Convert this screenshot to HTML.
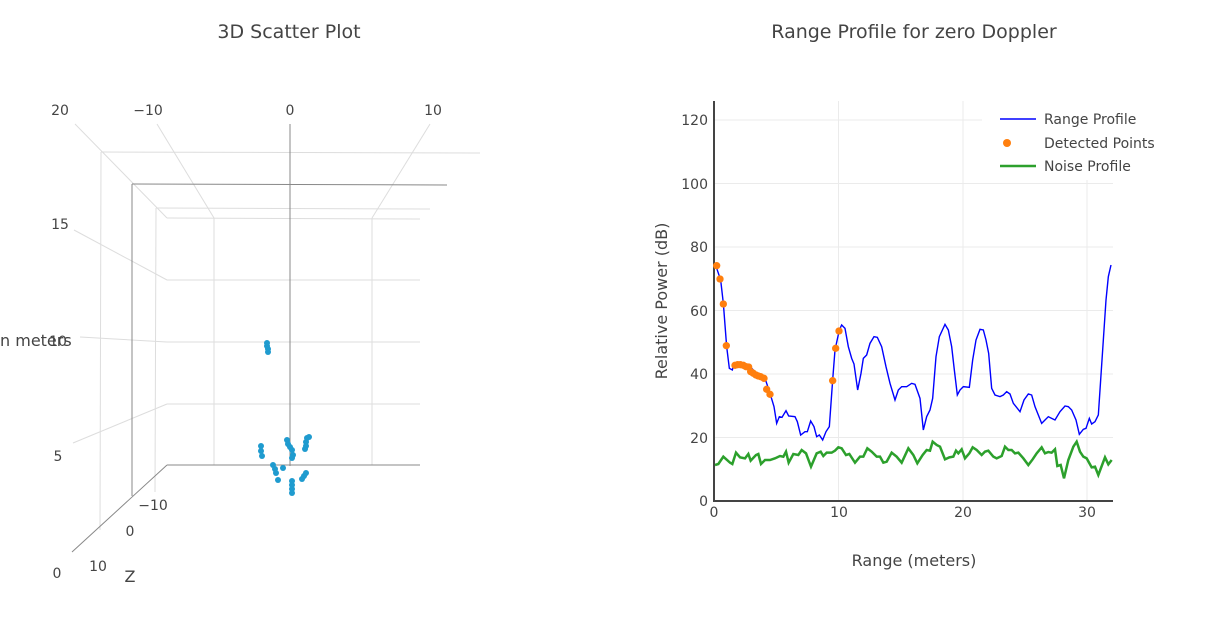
<!DOCTYPE html>
<html><head><meta charset="utf-8"><style>
body{margin:0;background:#fff;width:1210px;height:614px;overflow:hidden}
svg text{font-family:"DejaVu Sans","Liberation Sans",sans-serif;fill:#444}
</style></head><body>
<svg width="1210" height="614" viewBox="0 0 1210 614" xmlns="http://www.w3.org/2000/svg">
<text x="289" y="38" font-size="19" text-anchor="middle">3D Scatter Plot</text>
<text x="914" y="38" font-size="19" text-anchor="middle">Range Profile for zero Doppler</text>

<!-- 3D plot -->
<g stroke="#ddd" stroke-width="1" fill="none">
<line x1="101" y1="152" x2="480" y2="153"/>
<line x1="101" y1="152" x2="100" y2="530"/>
<line x1="156" y1="208" x2="430" y2="209"/>
<line x1="156" y1="208" x2="155" y2="492"/>
<line x1="167" y1="218" x2="420" y2="219"/>
<line x1="167" y1="280" x2="420" y2="280"/>
<line x1="167" y1="342" x2="420" y2="342"/>
<line x1="167" y1="404" x2="420" y2="404"/>
<line x1="214" y1="218" x2="214" y2="465"/>
<line x1="372" y1="218" x2="372" y2="465"/>
<line x1="75" y1="124" x2="167" y2="218"/>
<line x1="74" y1="230" x2="167" y2="280"/>
<line x1="80" y1="337" x2="167" y2="342"/>
<line x1="73" y1="443" x2="167" y2="404"/>
<line x1="157" y1="124" x2="214" y2="218"/>
<line x1="430" y1="124" x2="372" y2="218"/>
</g>
<g stroke="#888" stroke-width="1" fill="none">
<line x1="132" y1="184" x2="447" y2="185"/>
<line x1="132" y1="184" x2="132" y2="496"/>
<line x1="290" y1="124" x2="290" y2="466"/>
<line x1="167" y1="465" x2="420" y2="465"/>
<line x1="167" y1="465" x2="72" y2="552"/>
</g>
<g font-size="14" text-anchor="middle">
<text x="60" y="115">20</text><text x="148" y="115">−10</text><text x="290" y="115">0</text><text x="433" y="115">10</text>
<text x="60" y="229">15</text><text x="58" y="346">10</text><text x="58" y="461">5</text>
<text x="153" y="510">−10</text><text x="130" y="536">0</text><text x="98" y="571">10</text><text x="57" y="578">0</text>
</g>
<text x="0" y="346" font-size="16">n meters</text>
<text x="130" y="582" font-size="16" text-anchor="middle">Z</text>
<g fill="#1f9bcf">
<circle cx="267" cy="346" r="3"/><circle cx="268" cy="349" r="3"/><circle cx="268" cy="352" r="3"/><circle cx="267" cy="343" r="3"/>
<circle cx="261" cy="446" r="3"/><circle cx="261" cy="451" r="3"/><circle cx="262" cy="456" r="3"/>
<circle cx="287" cy="440" r="3"/><circle cx="288" cy="444" r="3"/><circle cx="290" cy="447" r="3"/><circle cx="292" cy="450" r="3"/><circle cx="293" cy="455" r="3"/><circle cx="292" cy="458" r="3"/>
<circle cx="307" cy="438" r="3"/><circle cx="306" cy="442" r="3"/><circle cx="306" cy="446" r="3"/><circle cx="305" cy="449" r="3"/><circle cx="309" cy="437" r="3"/>
<circle cx="273" cy="465" r="3"/><circle cx="275" cy="469" r="3"/><circle cx="276" cy="473" r="3"/><circle cx="283" cy="468" r="3"/><circle cx="278" cy="480" r="3"/>
<circle cx="292" cy="481" r="3"/><circle cx="292" cy="485" r="3"/><circle cx="292" cy="489" r="3"/><circle cx="292" cy="493" r="3"/>
<circle cx="304" cy="476" r="3"/><circle cx="306" cy="473" r="3"/><circle cx="302" cy="479" r="3"/>
</g>

<!-- 2D chart -->
<g stroke="#ebebeb" stroke-width="1">
<line x1="714" y1="437.5" x2="1113" y2="437.5"/>
<line x1="714" y1="374" x2="1113" y2="374"/>
<line x1="714" y1="310.5" x2="1113" y2="310.5"/>
<line x1="714" y1="247" x2="1113" y2="247"/>
<line x1="714" y1="183.5" x2="1113" y2="183.5"/>
<line x1="714" y1="120" x2="1113" y2="120"/>
<line x1="838.5" y1="101" x2="838.5" y2="501"/>
<line x1="963" y1="101" x2="963" y2="501"/>
<line x1="1087" y1="101" x2="1087" y2="501"/>
</g>
<rect x="982" y="100" width="200" height="80" fill="#fff"/>
<line x1="714" y1="101" x2="714" y2="502" stroke="#444" stroke-width="2"/>
<line x1="713" y1="501" x2="1113" y2="501" stroke="#444" stroke-width="2"/>
<g font-size="14" text-anchor="end">
<text x="708" y="506">0</text><text x="708" y="443">20</text><text x="708" y="379">40</text><text x="708" y="316">60</text><text x="708" y="252">80</text><text x="708" y="189">100</text><text x="708" y="125">120</text>
</g>
<g font-size="14" text-anchor="middle">
<text x="714" y="517">0</text><text x="839" y="517">10</text><text x="963" y="517">20</text><text x="1087" y="517">30</text>
</g>
<text x="914" y="566" font-size="16" text-anchor="middle">Range (meters)</text>
<text transform="translate(667,301) rotate(-90)" font-size="16" text-anchor="middle">Relative Power (dB)</text>

<g transform="translate(700,240) scale(0.3333333)" fill="none">
<polyline vector-effect="non-scaling-stroke" stroke="#0000ff" stroke-width="1.4" points="45,70 62,120 70,190 80,320 88,385 97,390 102,372 120,372 150,380 170,400 195,415 210,460 222,500 230,550 238,530 246,532 258,512 266,528 285,530 292,545 302,585 315,575 322,575 332,543 342,560 350,590 358,585 368,600 378,575 388,560 398,420 405,330 418,270 425,255 435,265 445,320 455,355 462,372 473,450 483,400 490,355 500,345 510,310 522,290 532,292 545,320 558,380 570,430 585,480 595,450 605,440 620,440 635,430 645,433 660,475 670,570 680,530 690,510 698,475 708,350 718,290 735,253 745,270 755,320 763,390 772,465 780,450 790,440 808,442 818,360 828,300 840,268 850,270 858,300 866,340 875,445 885,465 900,470 910,465 920,455 930,462 940,490 960,515 972,480 985,462 995,465 1005,500 1015,525 1025,550 1035,540 1045,530 1055,535 1065,540 1080,515 1095,498 1105,500 1115,510 1128,540 1138,583 1150,568 1158,565 1168,535 1175,552 1185,545 1195,525 1202,420 1210,300 1218,180 1225,110 1233,75"/>
<polyline vector-effect="non-scaling-stroke" stroke="#2ca02c" stroke-width="2.5" points="45,675 55,672 70,650 90,668 97,672 108,638 120,652 135,655 145,642 152,662 168,645 175,642 183,672 195,660 210,660 225,655 240,648 250,650 258,635 266,668 280,642 295,645 305,630 318,640 333,680 350,640 362,635 370,648 380,638 395,638 405,632 415,622 425,625 438,645 448,642 465,668 480,650 490,650 502,625 515,635 530,650 540,650 550,668 560,665 575,638 590,650 605,668 625,625 640,645 652,670 668,645 680,630 690,632 698,605 710,615 720,620 735,658 748,652 760,650 768,632 775,640 785,628 795,655 808,640 818,622 830,630 845,645 855,635 865,632 880,650 890,655 905,648 915,620 925,630 935,630 945,640 955,638 970,655 985,675 998,658 1010,640 1025,622 1035,640 1045,636 1055,638 1065,628 1072,678 1082,675 1092,715 1105,660 1120,620 1130,605 1140,635 1150,650 1160,655 1175,682 1185,680 1195,705 1215,652 1225,673 1235,660"/>
<g fill="#ff7f0e">
<circle cx="50" cy="77" r="11"/><circle cx="60" cy="117" r="11"/><circle cx="70" cy="192" r="11"/><circle cx="79" cy="317" r="11"/>
<circle cx="105" cy="376" r="11"/><circle cx="113" cy="374" r="11"/><circle cx="121" cy="374" r="11"/><circle cx="130" cy="376" r="11"/><circle cx="138" cy="380" r="11"/><circle cx="146" cy="381" r="11"/><circle cx="152" cy="395" r="11"/><circle cx="160" cy="400" r="11"/><circle cx="168" cy="405" r="11"/><circle cx="175" cy="408" r="11"/><circle cx="182" cy="410" r="11"/><circle cx="192" cy="415" r="11"/><circle cx="200" cy="448" r="11"/><circle cx="210" cy="463" r="11"/>
<circle cx="398" cy="422" r="11"/><circle cx="407" cy="325" r="11"/><circle cx="417" cy="273" r="11"/>
</g>
</g>

<!-- legend -->
<line x1="1000" y1="119" x2="1036" y2="119" stroke="#0000ff" stroke-width="1.5"/>
<circle cx="1007" cy="143" r="4" fill="#ff7f0e"/>
<line x1="1000" y1="166" x2="1036" y2="166" stroke="#2ca02c" stroke-width="2.5"/>
<g font-size="14"><text x="1044" y="124">Range Profile</text><text x="1044" y="148">Detected Points</text><text x="1044" y="171">Noise Profile</text></g>
</svg>
</body></html>
